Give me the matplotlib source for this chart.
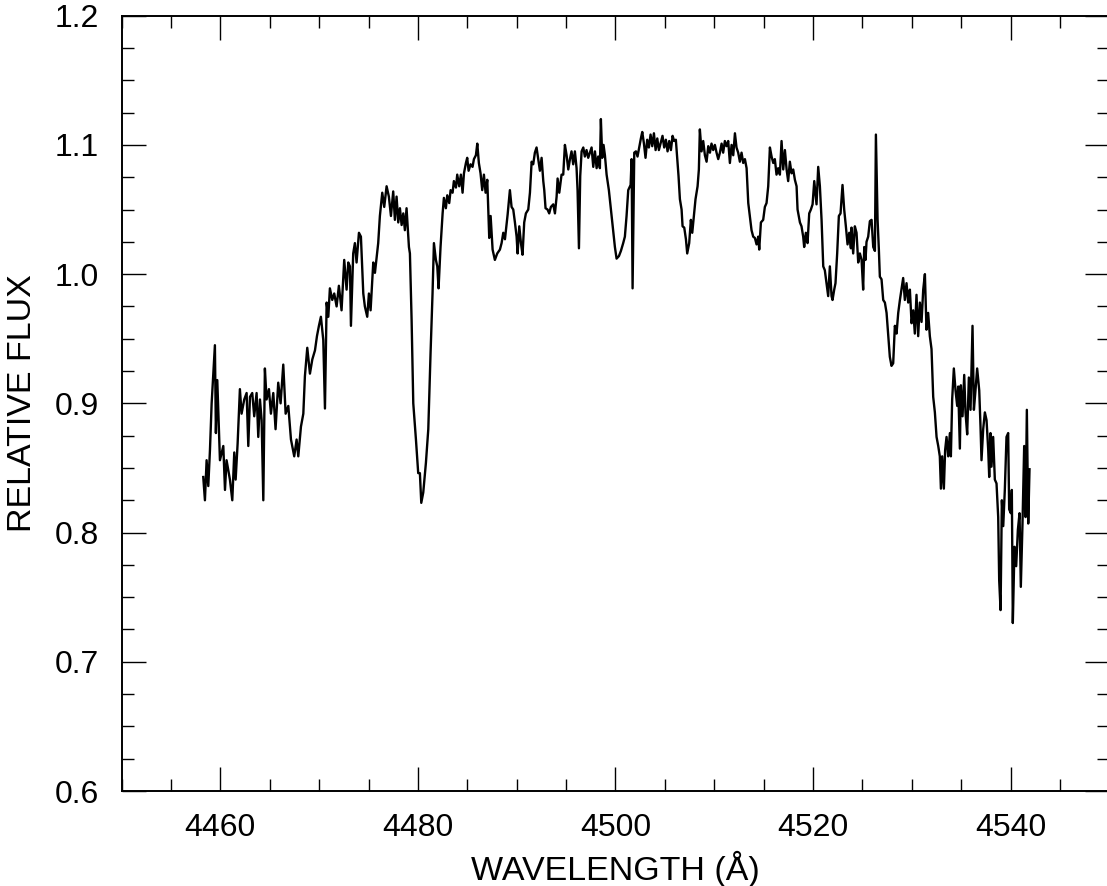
import numpy as np
import matplotlib
matplotlib.use("Agg")
import matplotlib.pyplot as plt
from matplotlib.ticker import MultipleLocator

# spectrum, split into wavelength segments (Angstrom, relative flux)
wave_4458 = [4458.27, 4458.44, 4458.61, 4458.78, 4458.95, 4459.12, 4459.29, 4459.45, 4459.55, 4459.69,
             4459.96, 4460.30, 4460.47, 4460.63, 4460.97, 4461.21, 4461.41, 4461.55, 4461.75, 4461.98,
             4462.15, 4462.42, 4462.66, 4462.83, 4463.00, 4463.23, 4463.43, 4463.67, 4463.84, 4464.01,
             4464.18, 4464.35, 4464.51, 4464.68, 4464.92, 4465.12, 4465.36, 4465.59, 4465.86, 4466.10,
             4466.37, 4466.61, 4466.88, 4467.15, 4467.48, 4467.72, 4467.89, 4468.16, 4468.40, 4468.56,
             4468.80, 4469.07, 4469.31, 4469.58, 4469.78, 4469.98, 4470.18, 4470.42, 4470.59, 4470.76,
             4470.93, 4471.09, 4471.33, 4471.53, 4471.77, 4472.00, 4472.27, 4472.54, 4472.78, 4472.95,
             4473.12]
flux_4458 = [0.843, 0.825, 0.856, 0.836, 0.864, 0.900, 0.923, 0.945, 0.877, 0.918,
             0.856, 0.867, 0.833, 0.856, 0.841, 0.825, 0.862, 0.841, 0.869, 0.911,
             0.892, 0.903, 0.908, 0.867, 0.905, 0.908, 0.890, 0.908, 0.874, 0.903,
             0.887, 0.825, 0.927, 0.903, 0.911, 0.892, 0.908, 0.880, 0.916, 0.900,
             0.930, 0.892, 0.898, 0.872, 0.859, 0.872, 0.859, 0.882, 0.892, 0.921,
             0.943, 0.923, 0.934, 0.941, 0.952, 0.960, 0.967, 0.949, 0.896, 0.978,
             0.967, 0.989, 0.980, 0.985, 0.975, 0.991, 0.972, 1.011, 0.988, 1.009,
             1.006]

wave_4473 = [4473.22, 4473.45, 4473.62, 4473.79, 4474.03, 4474.23, 4474.47, 4474.63, 4474.87, 4475.04,
             4475.21, 4475.48, 4475.65, 4475.98, 4476.15, 4476.39, 4476.59, 4476.83, 4477.06, 4477.27,
             4477.50, 4477.67, 4477.84, 4478.01, 4478.18, 4478.35, 4478.52, 4478.68, 4478.85, 4479.09,
             4479.19, 4479.36, 4479.53, 4479.80, 4480.03, 4480.20, 4480.34, 4480.54, 4480.81, 4481.05,
             4481.28, 4481.48, 4481.62, 4481.82, 4481.96, 4482.09, 4482.29, 4482.50, 4482.63, 4482.83,
             4482.97, 4483.17, 4483.31, 4483.51, 4483.64, 4483.85, 4483.98, 4484.18, 4484.35, 4484.52,
             4484.66, 4484.86, 4484.99, 4485.13, 4485.33, 4485.53, 4485.67, 4485.87, 4486.01, 4486.17,
             4486.34, 4486.51, 4486.68, 4486.85, 4487.02, 4487.12, 4487.22, 4487.36, 4487.56, 4487.79,
             4488.03, 4488.30, 4488.47, 4488.64]
flux_4473 = [0.960, 1.016, 1.024, 1.009, 1.032, 1.029, 0.985, 0.975, 0.967, 0.985,
             0.972, 1.009, 1.001, 1.024, 1.045, 1.063, 1.052, 1.068, 1.060, 1.045,
             1.064, 1.042, 1.060, 1.040, 1.051, 1.038, 1.047, 1.034, 1.051, 1.021,
             1.016, 0.965, 0.900, 0.872, 0.846, 0.846, 0.823, 0.831, 0.854, 0.880,
             0.939, 0.985, 1.024, 1.011, 1.006, 0.989, 1.021, 1.047, 1.059, 1.051,
             1.061, 1.055, 1.065, 1.063, 1.072, 1.067, 1.077, 1.068, 1.077, 1.063,
             1.078, 1.086, 1.090, 1.080, 1.085, 1.083, 1.089, 1.092, 1.101, 1.086,
             1.078, 1.065, 1.077, 1.063, 1.073, 1.050, 1.028, 1.045, 1.019, 1.011,
             1.016, 1.019, 1.024, 1.032]

wave_4489 = [4488.81, 4489.08, 4489.31, 4489.48, 4489.65, 4489.82, 4489.99, 4490.09, 4490.26, 4490.43,
             4490.59, 4490.76, 4490.93, 4491.17, 4491.34, 4491.51, 4491.67, 4491.84, 4492.01, 4492.18,
             4492.35, 4492.52, 4492.69, 4492.79, 4492.92, 4493.12, 4493.29, 4493.46, 4493.70, 4493.87,
             4494.04, 4494.14, 4494.31, 4494.54, 4494.71, 4494.88, 4495.05, 4495.22, 4495.39, 4495.55,
             4495.72, 4495.89, 4496.06, 4496.16, 4496.30, 4496.43, 4496.57, 4496.74, 4496.90, 4497.07,
             4497.24, 4497.41, 4497.58, 4497.75, 4497.92, 4498.09, 4498.25, 4498.42, 4498.52, 4498.66,
             4498.79, 4498.93, 4499.10, 4499.33, 4499.54, 4499.77, 4499.94, 4500.11, 4500.35, 4500.55,
             4500.78, 4500.95, 4501.12, 4501.29, 4501.53, 4501.63, 4501.73, 4501.90, 4502.07, 4502.23,
             4502.40, 4502.57, 4502.71, 4502.88, 4503.04, 4503.21, 4503.38, 4503.55, 4503.72, 4503.89,
             4504.06, 4504.23, 4504.39]
flux_4489 = [1.027, 1.046, 1.065, 1.052, 1.050, 1.040, 1.029, 1.016, 1.037, 1.024,
             1.015, 1.040, 1.047, 1.050, 1.063, 1.087, 1.085, 1.094, 1.098, 1.089,
             1.080, 1.090, 1.072, 1.065, 1.051, 1.050, 1.047, 1.052, 1.054, 1.047,
             1.060, 1.074, 1.063, 1.077, 1.077, 1.100, 1.092, 1.081, 1.089, 1.095,
             1.085, 1.095, 1.082, 1.065, 1.020, 1.076, 1.095, 1.098, 1.091, 1.096,
             1.090, 1.094, 1.098, 1.083, 1.095, 1.082, 1.091, 1.082, 1.120, 1.090,
             1.100, 1.092, 1.077, 1.065, 1.050, 1.034, 1.021, 1.012, 1.014, 1.018,
             1.024, 1.029, 1.045, 1.065, 1.069, 1.089, 0.989, 1.094, 1.095, 1.091,
             1.098, 1.105, 1.110, 1.101, 1.090, 1.104, 1.098, 1.108, 1.099, 1.109,
             1.096, 1.105, 1.096]

wave_4504 = [4504.49, 4504.76, 4504.93, 4505.10, 4505.27, 4505.44, 4505.61, 4505.78, 4505.94, 4506.11,
             4506.25, 4506.38, 4506.52, 4506.69, 4506.79, 4506.96, 4507.13, 4507.26, 4507.46, 4507.63,
             4507.77, 4507.94, 4508.10, 4508.31, 4508.44, 4508.54, 4508.71, 4508.88, 4509.05, 4509.22,
             4509.39, 4509.56, 4509.72, 4509.89, 4510.06, 4510.23, 4510.40, 4510.57, 4510.74, 4510.90,
             4511.07, 4511.24, 4511.41, 4511.58, 4511.75, 4511.92, 4512.09, 4512.25, 4512.42, 4512.59,
             4512.76, 4512.93, 4513.10, 4513.27, 4513.44, 4513.60, 4513.77, 4513.94, 4514.11, 4514.28,
             4514.45, 4514.55, 4514.72, 4514.95, 4515.12, 4515.29, 4515.46, 4515.63, 4515.80, 4515.97,
             4516.13, 4516.30, 4516.47, 4516.64, 4516.81, 4516.98, 4517.15, 4517.32, 4517.48, 4517.65,
             4517.82, 4517.99, 4518.16, 4518.33, 4518.43, 4518.67, 4518.83, 4519.00, 4519.10, 4519.27,
             4519.44, 4519.61, 4519.78, 4519.95, 4520.12]
flux_4504 = [1.099, 1.107, 1.098, 1.104, 1.095, 1.103, 1.096, 1.107, 1.103, 1.104,
             1.089, 1.076, 1.058, 1.050, 1.037, 1.036, 1.027, 1.016, 1.024, 1.042,
             1.032, 1.045, 1.058, 1.068, 1.081, 1.112, 1.095, 1.103, 1.092, 1.087,
             1.099, 1.094, 1.101, 1.096, 1.100, 1.094, 1.089, 1.094, 1.101, 1.094,
             1.103, 1.099, 1.103, 1.086, 1.100, 1.092, 1.109, 1.098, 1.094, 1.087,
             1.094, 1.086, 1.089, 1.082, 1.055, 1.045, 1.034, 1.029, 1.028, 1.023,
             1.029, 1.019, 1.040, 1.042, 1.052, 1.055, 1.068, 1.098, 1.091, 1.086,
             1.089, 1.077, 1.082, 1.077, 1.103, 1.081, 1.096, 1.081, 1.072, 1.087,
             1.078, 1.081, 1.073, 1.068, 1.050, 1.040, 1.037, 1.029, 1.021, 1.032,
             1.024, 1.047, 1.050, 1.054, 1.072]

wave_4520 = [4520.35, 4520.52, 4520.69, 4520.86, 4521.03, 4521.19, 4521.36, 4521.53, 4521.70, 4521.87,
             4521.97, 4522.14, 4522.27, 4522.44, 4522.61, 4522.78, 4522.98, 4523.15, 4523.32, 4523.49,
             4523.66, 4523.83, 4523.89, 4524.06, 4524.23, 4524.40, 4524.57, 4524.74, 4524.91, 4525.07,
             4525.18, 4525.31, 4525.41, 4525.58, 4525.75, 4525.92, 4526.09, 4526.26, 4526.36, 4526.53,
             4526.66, 4526.76, 4526.93, 4527.10, 4527.27, 4527.44, 4527.61, 4527.77, 4527.94, 4528.11,
             4528.28, 4528.45, 4528.62, 4528.79, 4528.95, 4529.12, 4529.29, 4529.46, 4529.63, 4529.80,
             4529.97, 4530.14, 4530.30, 4530.47, 4530.64]
flux_4520 = [1.054, 1.083, 1.068, 1.042, 1.006, 1.003, 0.993, 0.983, 1.006, 0.983,
             0.980, 0.988, 0.993, 1.016, 1.045, 1.047, 1.069, 1.050, 1.037, 1.023,
             1.032, 1.020, 1.036, 1.016, 1.037, 1.032, 1.009, 1.016, 1.011, 0.988,
             1.021, 1.011, 1.025, 1.029, 1.041, 1.042, 1.021, 1.018, 1.108, 1.042,
             1.019, 0.998, 0.996, 0.980, 0.978, 0.970, 0.952, 0.936, 0.929, 0.931,
             0.960, 0.954, 0.970, 0.980, 0.988, 0.997, 0.980, 0.993, 0.978, 0.988,
             0.962, 0.972, 0.954, 0.984, 0.952]

wave_4531 = [4530.81, 4530.98, 4531.15, 4531.32, 4531.48, 4531.65, 4531.82, 4531.99, 4532.16, 4532.33,
             4532.50, 4532.67, 4532.83, 4532.94, 4533.07, 4533.24, 4533.37, 4533.51, 4533.68, 4533.85,
             4533.95, 4534.08, 4534.25, 4534.42, 4534.59, 4534.69, 4534.86, 4534.96, 4535.13, 4535.30,
             4535.43, 4535.60, 4535.77, 4535.94, 4536.14, 4536.28, 4536.44, 4536.61, 4536.82, 4536.95,
             4537.05, 4537.22, 4537.39, 4537.56, 4537.73, 4537.83, 4537.96, 4538.06, 4538.23, 4538.40,
             4538.57, 4538.74, 4538.84, 4538.98, 4539.11, 4539.25, 4539.41, 4539.58, 4539.75, 4539.85,
             4540.02, 4540.12, 4540.22, 4540.39, 4540.56, 4540.73, 4540.90, 4541.03, 4541.20, 4541.37,
             4541.51, 4541.64, 4541.78, 4541.91]
flux_4531 = [0.978, 0.963, 0.988, 1.000, 0.957, 0.970, 0.952, 0.942, 0.905, 0.893,
             0.874, 0.867, 0.859, 0.834, 0.859, 0.834, 0.864, 0.874, 0.859, 0.877,
             0.859, 0.903, 0.927, 0.910, 0.898, 0.913, 0.865, 0.914, 0.890, 0.922,
             0.893, 0.876, 0.920, 0.895, 0.960, 0.895, 0.910, 0.927, 0.910, 0.882,
             0.856, 0.880, 0.893, 0.887, 0.864, 0.843, 0.877, 0.851, 0.874, 0.841,
             0.838, 0.812, 0.763, 0.740, 0.825, 0.805, 0.833, 0.874, 0.877, 0.818,
             0.815, 0.833, 0.730, 0.789, 0.774, 0.802, 0.815, 0.758, 0.807, 0.867,
             0.812, 0.895, 0.807, 0.849]

wave = np.concatenate([wave_4458, wave_4473, wave_4489, wave_4504, wave_4520, wave_4531])
flux = np.concatenate([flux_4458, flux_4473, flux_4489, flux_4504, flux_4520, flux_4531])

plt.rcParams['font.family'] = ['Liberation Sans', 'DejaVu Sans']

fig = plt.figure(figsize=(11.07, 8.86), dpi=100)
ax = fig.add_axes([0.1098, 0.1072, 0.8924, 0.8751])

ax.plot(wave, flux, color='black', linewidth=1.7)

ax.set_xlim(4450, 4550)
ax.set_ylim(0.6, 1.2)
ax.xaxis.set_major_locator(MultipleLocator(20))
ax.xaxis.set_minor_locator(MultipleLocator(5))
ax.yaxis.set_major_locator(MultipleLocator(0.1))
ax.yaxis.set_minor_locator(MultipleLocator(0.025))
ax.yaxis.set_major_formatter(plt.FormatStrFormatter('%.1f'))

ax.tick_params(which='both', direction='in', top=True, right=True, width=1.0)
ax.tick_params(which='major', length=17, labelsize=23, pad=16)
ax.tick_params(which='minor', length=8.5)
for sp in ax.spines.values():
    sp.set_linewidth(1.4)

ax.set_xlabel('WAVELENGTH (Å)', fontsize=24.5)
ax.set_ylabel('RELATIVE FLUX', fontsize=24.5)
ax.xaxis.set_label_coords(0.5, -0.077)
ax.yaxis.set_label_coords(-0.085, 0.5)

fig.savefig('out.png', dpi=100)
